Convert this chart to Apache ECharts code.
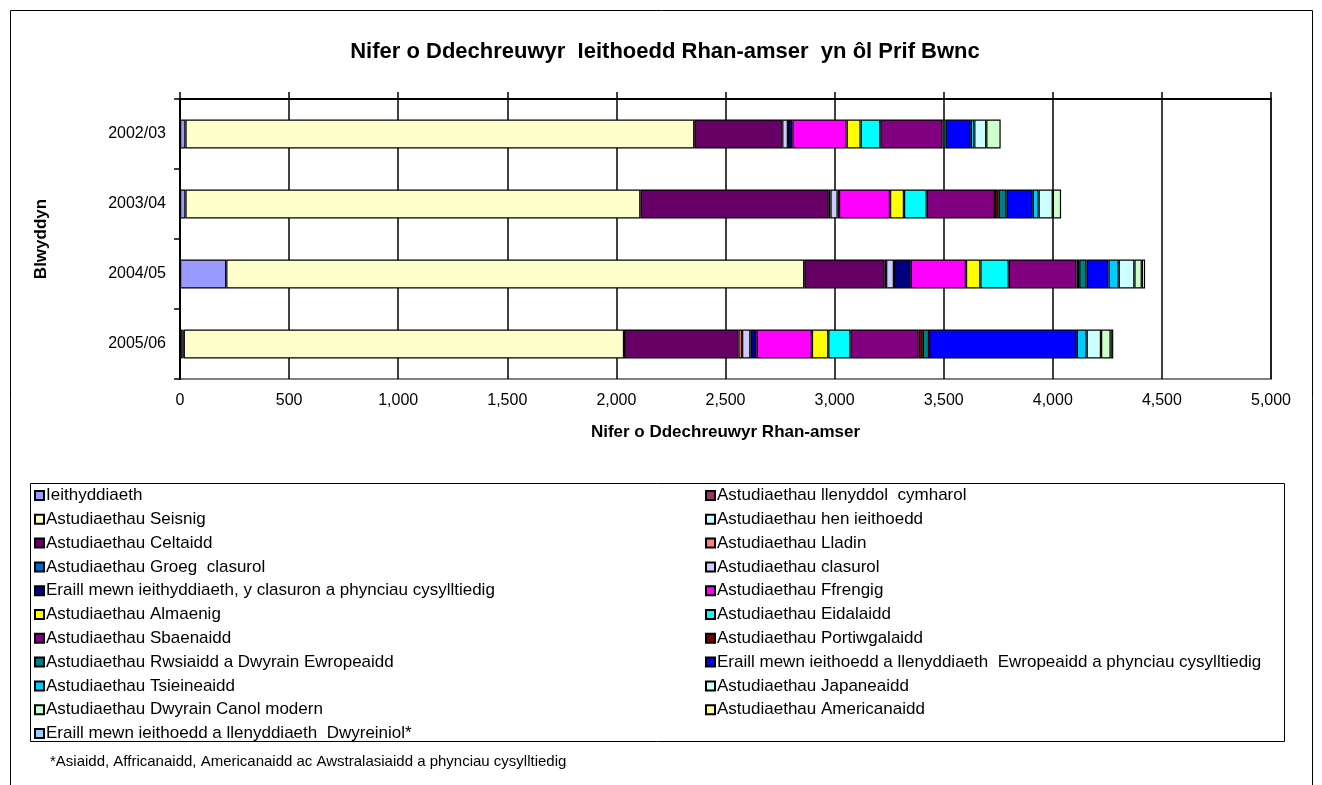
<!DOCTYPE html>
<html>
<head>
<meta charset="utf-8">
<script src="https://cdn.jsdelivr.net/npm/echarts@6/dist/echarts.min.js"></script>
<style>
html,body{margin:0;padding:0;background:#fff;}
#chart{width:1322px;height:785px;}
</style>
</head>
<body>
<div id="chart"></div>
<script>
const years = ['2002/03', '2003/04', '2004/05', '2005/06'];
const xTicks = ['0', '500', '1,000', '1,500', '2,000', '2,500', '3,000', '3,500', '4,000', '4,500', '5,000'];

const seriesNames = [
  'Ieithyddiaeth',
  'Astudiaethau llenyddol  cymharol',
  'Astudiaethau Seisnig',
  'Astudiaethau hen ieithoedd',
  'Astudiaethau Celtaidd',
  'Astudiaethau Lladin',
  'Astudiaethau Groeg  clasurol',
  'Astudiaethau clasurol',
  'Eraill mewn ieithyddiaeth, y clasuron a phynciau cysylltiedig',
  'Astudiaethau Ffrengig',
  'Astudiaethau Almaenig',
  'Astudiaethau Eidalaidd',
  'Astudiaethau Sbaenaidd',
  'Astudiaethau Portiwgalaidd',
  'Astudiaethau Rwsiaidd a Dwyrain Ewropeaidd',
  'Eraill mewn ieithoedd a llenyddiaeth  Ewropeaidd a phynciau cysylltiedig',
  'Astudiaethau Tsieineaidd',
  'Astudiaethau Japaneaidd',
  'Astudiaethau Dwyrain Canol modern',
  'Astudiaethau Americanaidd',
  'Eraill mewn ieithoedd a llenyddiaeth  Dwyreiniol*'
];

const seriesColors = ['#9999FF','#993366','#FFFFCC','#CCFFFF','#660066','#FF8080','#0066CC','#CCCCFF','#000080','#FF00FF','#FFFF00','#00FFFF','#800080','#800000','#008080','#0000FF','#00CCFF','#CCFFFF','#CCFFCC','#FFFF99','#99CCFF'];

// values per series, one value per year (2002/03, 2003/04, 2004/05, 2005/06)
const ieithyddiaeth     = [25, 25, 212, 12];
const llenyddolCymharol = [0, 0, 0, 5];
const seisnig           = [2332, 2085, 2649, 2018];
const henIeithoedd      = [0, 0, 0, 0];
const celtaidd          = [403, 863, 367, 524];
const lladin            = [0, 0, 0, 17];
const groeg             = [0, 8, 8, 0];
const clasurol          = [26, 33, 36, 38];
const erailIeithyddiaeth= [20, 6, 77, 29];
const ffrengig          = [249, 234, 253, 253];
const almaenig          = [64, 64, 66, 75];
const eidalaidd         = [90, 104, 130, 101];
const sbaenaidd         = [285, 313, 311, 312];
const portiwgalaidd     = [0, 17, 12, 20];
const rwsiaidd          = [15, 35, 33, 29];
const erailEwropeaidd   = [115, 121, 101, 677];
const tsieineaidd       = [16, 27, 47, 45];
const japaneaidd        = [55, 65, 72, 66];
const dwyrainCanol      = [66, 38, 34, 44];
const americanaidd      = [0, 0, 15, 12];
const erailDwyreiniol   = [0, 0, 0, 0];

const seriesValues = [ieithyddiaeth, llenyddolCymharol, seisnig, henIeithoedd, celtaidd, lladin, groeg, clasurol, erailIeithyddiaeth, ffrengig, almaenig, eidalaidd, sbaenaidd, portiwgalaidd, rwsiaidd, erailEwropeaidd, tsieineaidd, japaneaidd, dwyrainCanol, americanaidd, erailDwyreiniol];

const FONT = '"Liberation Sans", Arial, sans-serif';

const series = seriesNames.map((name, i) => ({
  name: name,
  type: 'bar',
  stack: 'total',
  xAxisIndex: 0,
  barWidth: 29,
  itemStyle: { color: seriesColors[i], borderColor: '#000', borderWidth: 1.2 },
  emphasis: { disabled: true },
  data: seriesValues[i].map(v => v === 0 ? '-' : v)
}));

const leftNames = seriesNames.filter((n, i) => i % 2 === 0);
const rightNames = seriesNames.filter((n, i) => i % 2 === 1);

const legendCommon = {
  orient: 'vertical',
  icon: 'rect',
  itemWidth: 9,
  itemHeight: 9,
  itemGap: 6.8,
  selectedMode: false,
  padding: 0,
  textStyle: { fontFamily: FONT, fontSize: 17, color: '#000', padding: [0, 0, 0, -3], lineHeight: 17 }
};

const chart = echarts.init(document.getElementById('chart'), null, { renderer: 'canvas' });
chart.setOption({
  backgroundColor: '#fff',
  animation: false,
  title: {
    text: 'Nifer o Ddechreuwyr  Ieithoedd Rhan-amser  yn ôl Prif Bwnc',
    left: 660, top: 36, textAlign: 'center',
    textStyle: { fontFamily: FONT, fontSize: 22, fontWeight: 'bold', color: '#000' }
  },
  grid: { left: 180, top: 99, width: 1091, height: 280, show: true, borderColor: '#808080', borderWidth: 2, backgroundColor: '#fff' },
  legend: [
    Object.assign({}, legendCommon, { left: 34, top: 487, data: leftNames }),
    Object.assign({}, legendCommon, { left: 705, top: 487, data: rightNames })
  ],
  xAxis: [
    {
      type: 'value', position: 'bottom', min: 0, max: 5000, interval: 500,
      axisLine: { show: false },
      axisTick: { show: false },
      axisLabel: { fontFamily: FONT, fontSize: 16, color: '#000', margin: 14,
        formatter: function (v) { return xTicks[Math.round(v / 500)]; } },
      splitLine: { show: true, lineStyle: { color: '#000', width: 1.5 } },
      name: 'Nifer o Ddechreuwyr Rhan-amser', nameLocation: 'middle', nameGap: 45,
      nameTextStyle: { fontFamily: FONT, fontSize: 17, fontWeight: 'bold', color: '#000' }
    },
    {
      type: 'value', position: 'top', min: 0, max: 5000, interval: 500,
      axisLine: { show: true, lineStyle: { color: '#000', width: 2 } },
      axisTick: { show: true, inside: false, length: 7, lineStyle: { color: '#000', width: 1.5 } },
      axisLabel: { show: false },
      splitLine: { show: false }
    }
  ],
  yAxis: {
    type: 'category', inverse: true, data: years,
    axisLine: { show: true, lineStyle: { color: '#000', width: 2 } },
    axisTick: { show: true, length: 6, lineStyle: { color: '#000', width: 1.5 } },
    axisLabel: { fontFamily: FONT, fontSize: 16, color: '#000', margin: 14 },
    name: 'Blwyddyn', nameLocation: 'middle', nameRotate: 90, nameGap: 130,
    nameTextStyle: { fontFamily: FONT, fontSize: 17, fontWeight: 'bold', color: '#000' }
  },
  graphic: [
    { type: 'rect', left: 10, top: 10, z: -10, shape: { width: 1302, height: 800 }, style: { fill: '#fff', stroke: '#000', lineWidth: 1 } },
    { type: 'rect', left: 30, top: 483, z: -5, shape: { width: 1254, height: 258 }, style: { fill: '#fff', stroke: '#000', lineWidth: 1 } },
    { type: 'text', left: 50, top: 754, style: { text: '*Asiaidd, Affricanaidd, Americanaidd ac Awstralasiaidd a phynciau cysylltiedig', font: '15px "Liberation Sans", Arial, sans-serif', fill: '#000' } }
  ],
  series: series
});
</script>
</body>
</html>
